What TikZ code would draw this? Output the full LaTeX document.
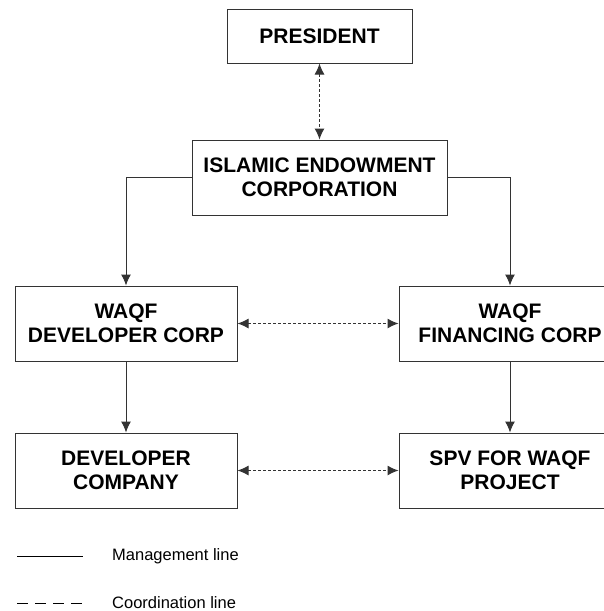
\documentclass[tikz,border=0pt]{standalone}
\usepackage{fontspec}
\setmainfont{Liberation Sans}
\usetikzlibrary{arrows.meta}

\tikzset{
    unit/.style={draw=black!80, line width=1pt, align=center,
        font=\fontsize{21}{24.5}\selectfont\bfseries, inner sep=0pt},
    mgmt/.style={draw=black!80, line width=1pt, -{Latex[length=11pt,width=10pt]}},
    coord/.style={draw=black!80, line width=1pt, dash pattern=on 3pt off 2pt,
        {Latex[length=11pt,width=10pt]}-{Latex[length=11pt,width=10pt]}},
}

\begin{document}
\begin{tikzpicture}[x=1pt, y=-1pt]
    \useasboundingbox (0,0) rectangle (604,611);

    % units
    \node [unit, minimum width=185, minimum height=54] (pres) at (319.5,36) {PRESIDENT};
    \node [unit, minimum width=255, minimum height=75] (iec) at (319.5,177.5) {ISLAMIC ENDOWMENT\\CORPORATION};
    \node [unit, minimum width=222, minimum height=75] (wdc) at (126,323.5) {WAQF\\DEVELOPER CORP};
    \node [unit, minimum width=222, minimum height=75] (wfc) at (510,323.5) {WAQF\\FINANCING CORP};
    \node [unit, minimum width=222, minimum height=75] (devco) at (126,470.5) {DEVELOPER\\COMPANY};
    \node [unit, minimum width=222, minimum height=75] (spv) at (510,470.5) {SPV FOR WAQF\\PROJECT};

    % management lines
    \draw [mgmt] (iec.west) -| (wdc.north);
    \draw [mgmt] (iec.east) -| (wfc.north);
    \draw [mgmt] (wdc) -- (devco);
    \draw [mgmt] (wfc) -- (spv);

    % coordination lines
    \draw [coord] (pres) -- (iec);
    \draw [coord] (wdc) -- (wfc);
    \draw [coord] (devco) -- (spv);

    % legend
    \coordinate (mgA) at (17,556);
    \coordinate (mgB) at (83,556);
    \coordinate (coA) at (17,603);
    \coordinate (coB) at (83,603);
    \draw [draw=black, line width=1pt] (mgA) -- (mgB);
    \draw [draw=black, line width=1pt, dash pattern=on 11pt off 7pt] (coA) -- (coB);
    \node [anchor=west, font=\fontsize{16.5}{20}\selectfont, inner sep=0pt] (mglabel) at (112,556) {Management line};
    \node [anchor=west, font=\fontsize{16.5}{20}\selectfont, inner sep=0pt] (colabel) at (112,603) {Coordination line};
\end{tikzpicture}
\end{document}
